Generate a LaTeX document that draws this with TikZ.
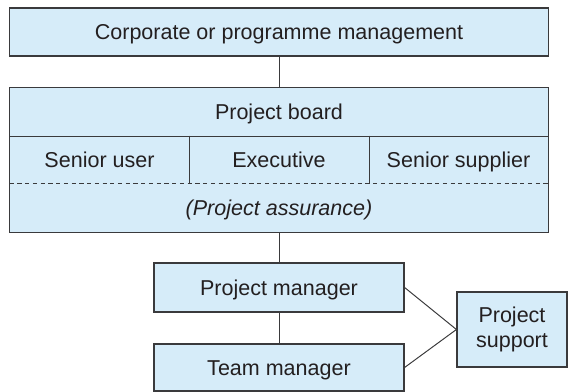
\documentclass[tikz,border=0pt]{standalone}
\usepackage{fontspec}
\setmainfont{Liberation Sans}
\usepackage{xcolor}
\usepackage{tikz}
\usetikzlibrary{positioning}
\usetikzlibrary{calc}
\definecolor{boxblue}{HTML}{D6ECF9}
\definecolor{boxline}{HTML}{3A3A3C}
\definecolor{txtgray}{HTML}{231F20}

\begin{document}
\begin{tikzpicture}[x=0.025cm,y=-0.025cm,
  role/.style={draw=boxline,fill=boxblue,line width=0.8pt,inner sep=0pt,text=txtgray,font=\fontsize{15.3}{18}\selectfont,align=center,text height=11pt,text depth=0pt},
  cell/.style={fill=boxblue,inner sep=0pt,text=txtgray,font=\fontsize{15.3}{18}\selectfont,text height=11pt,text depth=0pt},
  link/.style={draw=boxline,line width=0.7pt}]
\useasboundingbox (0,0) rectangle (568,392);
\node[role,minimum width=13.45cm,minimum height=1.2cm] (corp) at (279,32) {Corporate or programme management};
%% project board, three roles and assurance
\node[cell,minimum width=13.45cm,minimum height=1.2cm] (board) at (279,112) {Project board};
\node[cell,minimum width=4.475cm,minimum height=1.175cm] (user) at (99.5,159.5) {Senior user};
\node[cell,minimum width=4.5cm,minimum height=1.175cm] (exec) at (279,159.5) {Executive};
\node[cell,minimum width=4.475cm,minimum height=1.175cm] (supplier) at (458.5,159.5) {Senior supplier};
\node[cell,minimum width=13.45cm,minimum height=1.225cm,font=\fontsize{15.3}{18}\selectfont\itshape] (assure) at (279,207.5) {(Project assurance)};
\draw[line width=0.8pt,draw=boxline] (board.north west) rectangle (assure.south east);
\draw[link] (board.south west) -- (board.south east);
\draw[link] (user.north east) -- (user.south east);
\draw[link] (exec.north east) -- (exec.south east);
\draw[link,dash pattern=on 3pt off 2.5pt] (user.south west) -- (supplier.south east);
%% managers and support
\node[role,minimum width=6.25cm,minimum height=1.225cm] (pm) at (279,287.5) {Project manager};
\node[role,minimum width=6.25cm,minimum height=1.175cm] (tm) at (279,367.5) {Team manager};
\node[role,minimum width=2.75cm,minimum height=1.875cm,text height=,text depth=] (support) at (512,329.5) {Project\\support};
\draw[link] (corp) -- (board);
\draw[link] (assure) -- (pm);
\draw[link] (pm) -- (tm);
\draw[link] (pm.east) -- (support.west);
\draw[link] (tm.east) -- (support.west);
\end{tikzpicture}
\end{document}
